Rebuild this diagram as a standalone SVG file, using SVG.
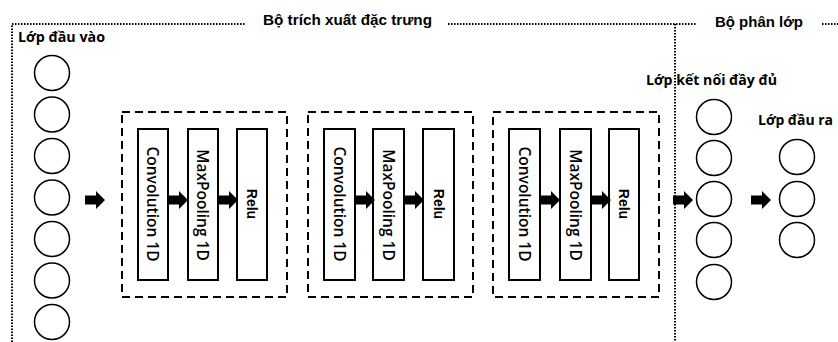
<svg xmlns="http://www.w3.org/2000/svg" width="838" height="342" viewBox="0 0 838 342">
  <style>
    .frame { fill: none; stroke: #000; stroke-width: 2; stroke-dasharray: 1.5 1.5; }
    .group { fill: none; stroke: #000; stroke-width: 2; stroke-dasharray: 8 5; }
    .layer { fill: #fff; stroke: #000; stroke-width: 2; }
    .neuron { fill: #fff; stroke: #000; stroke-width: 1.5; }
    .title { font-family: "Liberation Sans", Arial, sans-serif; font-weight: bold; font-size: 15px; fill: #000; }
    .label { font-family: "Open Sans", "Noto Sans", sans-serif; font-weight: bold; font-size: 14px; fill: #000; }
    .vtext { font-family: "Open Sans", "Noto Sans", sans-serif; font-weight: 600; font-size: 15.5px; fill: #000; text-anchor: middle; dominant-baseline: central; }
    .vbold { font-family: "Liberation Sans", Arial, sans-serif; font-weight: bold; font-size: 14px; fill: #000; text-anchor: middle; dominant-baseline: central; }
  </style>
  <defs>
    <path id="arrow" d="M0,-4.5 L11,-4.5 L11,-9 L20,0 L11,9 L11,4.5 L0,4.5 Z" fill="#000"/>
  </defs>
  <rect width="838" height="342" fill="#fff"/>

  <!-- section frame -->
  <g id="frame">
    <path class="frame" d="M12,342 V24 H245"/>
    <path class="frame" d="M448,24 H696"/>
    <path class="frame" d="M822,24 H838"/>
    <path class="frame" d="M675,24 V342"/>
    <text class="title" x="263" y="25" textLength="169" lengthAdjust="spacingAndGlyphs">Bộ trích xuất đặc trưng</text>
    <text class="title" x="715" y="27" textLength="88" lengthAdjust="spacingAndGlyphs">Bộ phân lớp</text>
  </g>

  <!-- input layer -->
  <g id="input-layer">
    <text class="label" x="18" y="42" textLength="87" lengthAdjust="spacingAndGlyphs">Lớp đầu vào</text>
    <circle class="neuron" cx="52" cy="73" r="17.5"/>
    <circle class="neuron" cx="52" cy="114.5" r="17.5"/>
    <circle class="neuron" cx="52" cy="156" r="17.5"/>
    <circle class="neuron" cx="52" cy="197.5" r="17.5"/>
    <circle class="neuron" cx="52" cy="239" r="17.5"/>
    <circle class="neuron" cx="52" cy="280.5" r="17.5"/>
    <circle class="neuron" cx="52" cy="322" r="17.5"/>
  </g>

  <!-- feature extraction block 1 -->
  <g id="block-1">
    <rect class="group" x="122" y="112" width="165" height="185"/>
    <rect class="layer" x="138" y="129" width="30" height="151"/>
    <rect class="layer" x="188" y="129" width="30" height="151"/>
    <rect class="layer" x="237" y="129" width="30" height="151"/>
    <text class="vtext" transform="translate(153,204) rotate(90)">Convolution 1D</text>
    <text class="vtext" transform="translate(203,205) rotate(90)">MaxPooling 1D</text>
    <text class="vbold" transform="translate(252,204) rotate(90)">Relu</text>
  </g>

  <!-- feature extraction block 2 -->
  <g id="block-2">
    <rect class="group" x="308" y="112" width="165" height="185"/>
    <rect class="layer" x="324" y="129" width="31" height="151"/>
    <rect class="layer" x="373" y="129" width="31" height="151"/>
    <rect class="layer" x="423" y="129" width="31" height="151"/>
    <text class="vtext" transform="translate(339.5,204) rotate(90)">Convolution 1D</text>
    <text class="vtext" transform="translate(388.5,205) rotate(90)">MaxPooling 1D</text>
    <text class="vbold" transform="translate(438.5,204) rotate(90)">Relu</text>
  </g>

  <!-- feature extraction block 3 -->
  <g id="block-3">
    <rect class="group" x="493" y="112" width="166" height="185"/>
    <rect class="layer" x="509" y="129" width="31" height="151"/>
    <rect class="layer" x="560" y="129" width="31" height="151"/>
    <rect class="layer" x="609" y="129" width="30" height="151"/>
    <text class="vtext" transform="translate(524.5,204) rotate(90)">Convolution 1D</text>
    <text class="vtext" transform="translate(575.5,205) rotate(90)">MaxPooling 1D</text>
    <text class="vbold" transform="translate(624,204) rotate(90)">Relu</text>
  </g>

  <!-- fully connected layer -->
  <g id="dense-layer">
    <text class="label" x="646" y="85" textLength="131" lengthAdjust="spacingAndGlyphs">Lớp kết nối đầy đủ</text>
    <circle class="neuron" cx="714" cy="117" r="17.5"/>
    <circle class="neuron" cx="714" cy="158" r="17.5"/>
    <circle class="neuron" cx="714" cy="199" r="17.5"/>
    <circle class="neuron" cx="714" cy="240" r="17.5"/>
    <circle class="neuron" cx="714" cy="282" r="17.5"/>
  </g>

  <!-- output layer -->
  <g id="output-layer">
    <text class="label" x="758" y="125" textLength="75" lengthAdjust="spacingAndGlyphs">Lớp đầu ra</text>
    <circle class="neuron" cx="797" cy="157" r="17.5"/>
    <circle class="neuron" cx="797" cy="199" r="17.5"/>
    <circle class="neuron" cx="797" cy="240" r="17.5"/>
  </g>

  <!-- connectors -->
  <g id="connectors">
    <use href="#arrow" x="85" y="200"/>
    <use href="#arrow" x="168" y="200"/>
    <use href="#arrow" x="218" y="200"/>
    <use href="#arrow" x="355" y="200"/>
    <use href="#arrow" x="404" y="200"/>
    <use href="#arrow" x="540" y="200"/>
    <use href="#arrow" x="591" y="200"/>
    <use href="#arrow" x="673" y="200"/>
    <use href="#arrow" x="751" y="200"/>
  </g>
</svg>
